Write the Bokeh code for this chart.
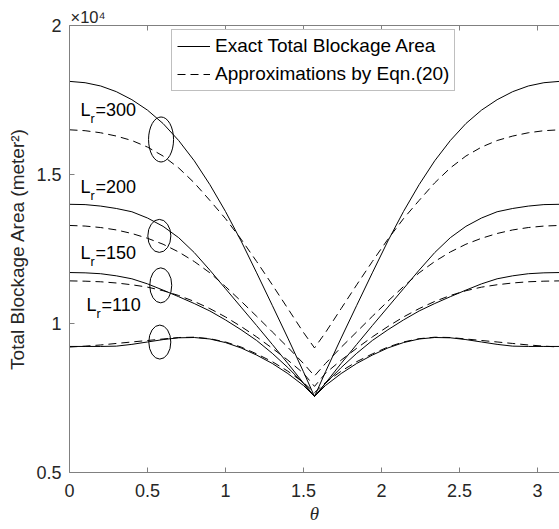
from bokeh.plotting import figure
from bokeh.models import (LinearAxis, FixedTicker, Range1d, Label, Legend,
                          LegendItem, CustomJSTickFormatter)
from bokeh.embed import file_html
from bokeh.resources import INLINE

# ---------------- data ----------------
theta = [0.0, 0.1, 0.2, 0.3, 0.4, 0.5, 0.6, 0.7, 0.8, 0.9, 1.0, 1.1, 1.2, 1.3,
         1.4, 1.5, 1.5708, 1.6416, 1.7416, 1.8416, 1.9416, 2.0416, 2.1416,
         2.2416, 2.3416, 2.4416, 2.5416, 2.6416, 2.7416, 2.8416, 2.9416,
         3.0416, 3.1416]

exact_300 = [18125, 18080, 17970, 17780, 17510, 17160, 16710, 16140, 15460,
             14660, 13760, 12770, 11700, 10610, 9510, 8380, 7550,
             8380, 9510, 10610, 11700, 12770, 13760, 14660, 15460, 16140,
             16710, 17160, 17510, 17780, 17970, 18080, 18125]
approx_300 = [16500, 16470, 16400, 16290, 16140, 15920, 15620, 15220, 14720,
              14130, 13520, 12830, 12080, 11300, 10500, 9700, 9180,
              9700, 10500, 11300, 12080, 12830, 13520, 14130, 14720, 15220,
              15620, 15920, 16140, 16290, 16400, 16470, 16500]

exact_200 = [14000, 13990, 13940, 13860, 13750, 13540, 13260, 12880, 12380,
             11790, 11170, 10550, 9930, 9300, 8660, 8000, 7550,
             8000, 8660, 9300, 9930, 10550, 11170, 11790, 12380, 12880,
             13260, 13540, 13750, 13860, 13940, 13990, 14000]
approx_200 = [13290, 13270, 13220, 13140, 13020, 12860, 12660, 12400, 12080,
              11700, 11240, 10750, 10240, 9720, 9200, 8660, 8240,
              8660, 9200, 9720, 10240, 10750, 11240, 11700, 12080, 12400,
              12660, 12860, 13020, 13140, 13220, 13270, 13290]

exact_150 = [11710, 11700, 11670, 11600, 11500, 11330, 11120, 10900, 10670,
             10420, 10120, 9790, 9430, 9000, 8520, 7990, 7550,
             7990, 8520, 9000, 9430, 9790, 10120, 10420, 10670, 10900,
             11120, 11330, 11500, 11600, 11670, 11700, 11710]
approx_150 = [11430, 11420, 11400, 11360, 11300, 11220, 11100, 10940, 10740,
              10500, 10220, 9900, 9550, 9170, 8770, 8330, 7890,
              8330, 8770, 9170, 9550, 9900, 10220, 10500, 10740, 10940,
              11100, 11220, 11300, 11360, 11400, 11420, 11430]

exact_110 = [9230, 9230, 9230, 9240, 9300, 9380, 9460, 9520, 9530, 9480,
             9360, 9180, 8940, 8660, 8320, 7920, 7550,
             7920, 8320, 8660, 8940, 9180, 9360, 9480, 9530, 9520, 9460,
             9380, 9300, 9240, 9230, 9230, 9230]
approx_110 = [9210, 9240, 9280, 9330, 9380, 9430, 9480, 9530, 9540, 9490,
              9380, 9210, 8980, 8720, 8400, 8020, 7680,
              8020, 8400, 8720, 8980, 9210, 9380, 9490, 9540, 9530, 9480,
              9430, 9380, 9330, 9280, 9240, 9210]

lr_names = ["300", "200", "150", "110"]
x_ticks = [0, 0.5, 1, 1.5, 2, 2.5, 3]
y_ticks = [5000, 10000, 15000, 20000]
legend_labels = ["Exact Total Blockage Area", "Approximations by Eqn.(20)"]

# annotation placement (ellipses and L_r labels)
ell_x = [0.587, 0.576, 0.585, 0.579]
ell_y = [16175, 12940, 11280, 9377]
ell_w = [25, 23, 22, 22]
ell_h = [45, 33, 35, 34]
lab_x = [0.07, 0.07, 0.07, 0.109]
lab_y = [16840, 14250, 12020, 10270]

FONT = "Liberation Sans"
AX = "#808080"
TXT = "#262626"

p = figure(width=559, height=529, output_backend="svg", toolbar_location=None,
           x_range=Range1d(0, 3.1416), y_range=Range1d(5000, 20000),
           min_border_left=69, min_border_right=0, min_border_top=25,
           min_border_bottom=57, outline_line_color=None,
           background_fill_color="white", border_fill_color="white")
p.xgrid.visible = False
p.ygrid.visible = False

# exponent shown as a left-aligned title above the axes
p.title.text = "×10⁴"
p.title.align = "left"
p.title.offset = 1
p.title.standoff = 0
p.title.text_font = FONT
p.title.text_font_size = "16.5px"
p.title.text_font_style = "normal"
p.title.text_color = TXT

# bottom axis
xa = p.xaxis[0]
xa.ticker = FixedTicker(ticks=x_ticks)
xa.formatter = CustomJSTickFormatter(code="return tick.toString();")
xa.axis_line_color = AX
xa.major_tick_line_color = AX
xa.major_tick_in = 5
xa.major_tick_out = 0
xa.minor_tick_line_color = None
xa.major_label_text_font = FONT
xa.major_label_text_font_size = "18px"
xa.major_label_text_color = TXT
xa.major_label_standoff = 11
xa.axis_label = "θ"
xa.axis_label_text_font = "Liberation Serif"
xa.axis_label_text_font_style = "italic"
xa.axis_label_text_font_size = "19px"
xa.axis_label_text_color = TXT
xa.axis_label_standoff = 3

# left axis
ya = p.yaxis[0]
ya.ticker = FixedTicker(ticks=y_ticks)
ya.formatter = CustomJSTickFormatter(code="return (tick/10000).toString();")
ya.axis_line_color = AX
ya.major_tick_line_color = AX
ya.major_tick_in = 5
ya.major_tick_out = 0
ya.minor_tick_line_color = None
ya.major_label_text_font = FONT
ya.major_label_text_font_size = "18px"
ya.major_label_text_color = TXT
ya.major_label_standoff = 8
ya.axis_label = "Total Blockage Area (meter²)"
ya.axis_label_text_font = FONT
ya.axis_label_text_font_style = "normal"
ya.axis_label_text_font_size = "19px"
ya.axis_label_text_color = TXT
ya.axis_label_standoff = 5

# top axis (ticks only)
top = LinearAxis(ticker=FixedTicker(ticks=x_ticks),
                 formatter=CustomJSTickFormatter(code="return '';"),
                 axis_line_color=AX, major_tick_line_color=AX,
                 major_tick_in=5, major_tick_out=0, minor_tick_line_color=None,
                 major_label_text_font_size="0px", major_label_standoff=0)
p.add_layout(top, "above")

# curves
exact = [exact_300, exact_200, exact_150, exact_110]
approx = [approx_300, approx_200, approx_150, approx_110]
exact_r = []
approx_r = []
for e, a in zip(exact, approx):
    exact_r.append(p.line(theta, e, line_color="black", line_width=1))
    approx_r.append(p.line(theta, a, line_color="black", line_width=1,
                           line_dash="8 5"))

# ellipses
p.ellipse(x=ell_x, y=ell_y, width=ell_w, height=ell_h, width_units="screen",
          height_units="screen", fill_color=None, line_color="black",
          line_width=1)

# L_r labels
for name, lx, ly in zip(lr_names, lab_x, lab_y):
    p.add_layout(Label(x=lx, y=ly, text="L", text_font=FONT,
                       text_font_size="18px", text_color="black"))
    p.add_layout(Label(x=lx, y=ly, text="r", x_offset=10, y_offset=-6,
                       text_font=FONT, text_font_size="12.5px",
                       text_color="black"))
    p.add_layout(Label(x=lx, y=ly, text="=" + name, x_offset=15,
                       text_font=FONT, text_font_size="18px",
                       text_color="black"))

legend = Legend(items=[LegendItem(label=legend_labels[0], renderers=[exact_r[0]]),
                       LegendItem(label=legend_labels[1], renderers=[approx_r[0]])],
                location=(102, 381), border_line_color=AX, border_line_width=1,
                background_fill_color="white", background_fill_alpha=1.0,
                label_text_font=FONT, label_text_font_size="19px",
                label_text_color="black", glyph_width=33, glyph_height=20,
                label_height=20, spacing=6, padding=5, margin=0,
                label_standoff=5)
p.add_layout(legend)

open("out.html", "w").write(file_html(p, INLINE))
